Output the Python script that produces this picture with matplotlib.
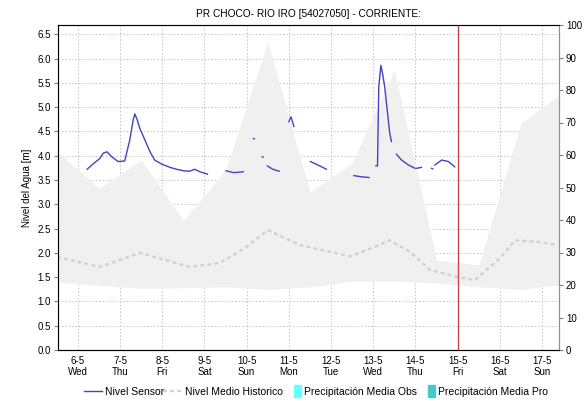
import matplotlib.pyplot as plt
from matplotlib.patches import Patch, Rectangle
from matplotlib.legend_handler import HandlerPatch
import numpy as np

plt.rcParams['font.family'] = ['Liberation Sans', 'DejaVu Sans']
plt.rcParams['font.size'] = 7

nan = np.nan

# x = day of May (fractional)
band_x = [5.5, 6.5, 7.5, 8.5, 9.5, 10.5, 11.5, 12.5, 13.5, 14.5, 15.5, 16.5, 17.5]
band_max = [4.10, 3.33, 3.91, 2.67, 3.70, 6.34, 3.25, 3.85, 5.76, 1.85, 1.75, 4.67, 5.30]
band_min = [1.40, 1.33, 1.27, 1.28, 1.30, 1.25, 1.30, 1.42, 1.42, 1.38, 1.30, 1.25, 1.35]

medio_x = [5.53, 6.52, 7.47, 8.65, 9.36, 9.96, 10.50, 11.26, 11.97, 12.45, 12.97,
           13.39, 13.87, 14.34, 15.00, 15.41, 16.00, 16.36, 16.95, 17.37]
medio_y = [1.91, 1.71, 2.00, 1.71, 1.79, 2.10, 2.47, 2.16, 2.02, 1.93, 2.10,
           2.26, 2.02, 1.65, 1.50, 1.44, 1.89, 2.26, 2.22, 2.16]

sensor_x = [6.22, 6.36, 6.52, 6.60, 6.69, 6.80, 6.95, 7.11, 7.23, 7.31, 7.35, 7.41,
            7.47, 7.59, 7.71, 7.82, 7.98, 8.18, 8.34, 8.50, 8.65, 8.77, 8.89, 9.07, nan,
            9.51, 9.60, 9.70, 9.92, nan,
            10.16, 10.18, nan,
            10.37, 10.39, nan,
            10.49, 10.62, 10.77, nan,
            11.00, 11.05, 11.12, nan,
            11.51, 11.73, 11.89, nan,
            12.54, 12.68, 12.90, nan,
            13.06, 13.10, 13.13, 13.18, 13.22, 13.27, 13.33, 13.39, 13.43, nan,
            13.55, 13.67, 13.83, 13.99, nan,
            14.03, 14.14, nan,
            14.38, 14.41, nan,
            14.46, 14.62, 14.78, 14.93]
sensor_y = [3.72, 3.83, 3.94, 4.05, 4.08, 3.98, 3.88, 3.89, 4.32, 4.73, 4.86, 4.73,
            4.56, 4.32, 4.08, 3.91, 3.83, 3.76, 3.72, 3.69, 3.68, 3.72, 3.67, 3.62, nan,
            3.69, 3.67, 3.65, 3.67, nan,
            4.35, 4.35, nan,
            3.98, 3.97, nan,
            3.79, 3.72, 3.68, nan,
            4.70, 4.80, 4.60, nan,
            3.88, 3.79, 3.72, nan,
            3.59, 3.57, 3.55, nan,
            3.79, 3.79, 5.42, 5.86, 5.69, 5.42, 4.94, 4.46, 4.29, nan,
            4.03, 3.91, 3.81, 3.74, nan,
            3.74, 3.76, nan,
            3.74, 3.73, nan,
            3.81, 3.91, 3.88, 3.77]

day_ticks = [6, 7, 8, 9, 10, 11, 12, 13, 14, 15, 16, 17]
day_names = ['Wed', 'Thu', 'Fri', 'Sat', 'Sun', 'Mon', 'Tue', 'Wed', 'Thu', 'Fri', 'Sat', 'Sun']
now_day = 15

fig = plt.figure(figsize=(5.85, 4.03), dpi=100)
ax1 = fig.add_axes([58 / 585, 53 / 403, 501 / 585, 325 / 403])

ax1.fill_between(band_x, band_min, band_max, color='#f0f0f0', lw=0, zorder=1)
ax1.plot(medio_x, medio_y, color='#d0d0d0', ls=(0, (0.8, 2.2)), lw=1.7,
         dash_capstyle='round', zorder=2, label='Nivel Medio Historico')
ax1.plot(sensor_x, sensor_y, color='#4444bb', lw=1.0, zorder=3, label='Nivel Sensor')
ax1.axvline(now_day, color='#c84848', lw=1.0, zorder=4)

ax1.set_xlim(5.53, 17.4)
ax1.set_ylim(0, 6.69)
ax1.set_yticks(np.arange(0, 6.51, 0.5))
ax1.set_yticklabels(['%.1f' % v for v in np.arange(0, 6.51, 0.5)])
ax1.set_xticks(day_ticks)
ax1.set_xticklabels(['%d-5\n%s' % (d, n) for d, n in zip(day_ticks, day_names)],
                    linespacing=1.15)
ax1.grid(True, color='#c4c4c4', ls=(0, (1.5, 2)), lw=0.7)
ax1.set_axisbelow(True)
ax1.set_ylabel('Nivel del Agua [m]', labelpad=4)
ax1.tick_params(axis='y', length=3, color='#808080', pad=2)
ax1.tick_params(axis='x', length=0, pad=4)
for s in ax1.spines.values():
    s.set_color('#909090')
ax1.spines['bottom'].set_color('#404040')

ax2 = ax1.twinx()
ax2.set_ylim(0, 100)
ax2.set_yticks(range(0, 101, 10))
ax2.tick_params(length=3, color='#808080', pad=2)
ax2.spines['right'].set_color('#909090')

ax1.set_title('PR CHOCO- RIO IRO [54027050] - CORRIENTE:', fontsize=7.3, pad=6)


def small_square(legend, orig_handle, xdescent, ydescent, width, height, fontsize):
    # narrow square at the right end of the handle box
    w = height * 0.8
    return Rectangle((-xdescent + width - w, -ydescent - 1), w, height + 2)


h1, l1 = ax1.get_legend_handles_labels()
handles = [h1[1], h1[0],
           Patch(color='#66ffff', label='Precipitación Media Obs'),
           Patch(color='#44c8c8', label='Precipitación Media Pro')]
labels = [l1[1], l1[0], 'Precipitación Media Obs', 'Precipitación Media Pro']
fig.legend(handles, labels, loc='center', bbox_to_anchor=(0.54, 0.028), ncol=4,
           frameon=False, handlelength=1.7, handleheight=0.9, handletextpad=0.3,
           columnspacing=0.0, fontsize=7.5,
           handler_map={Patch: HandlerPatch(patch_func=small_square)})

fig.savefig('out.png', dpi=100)
